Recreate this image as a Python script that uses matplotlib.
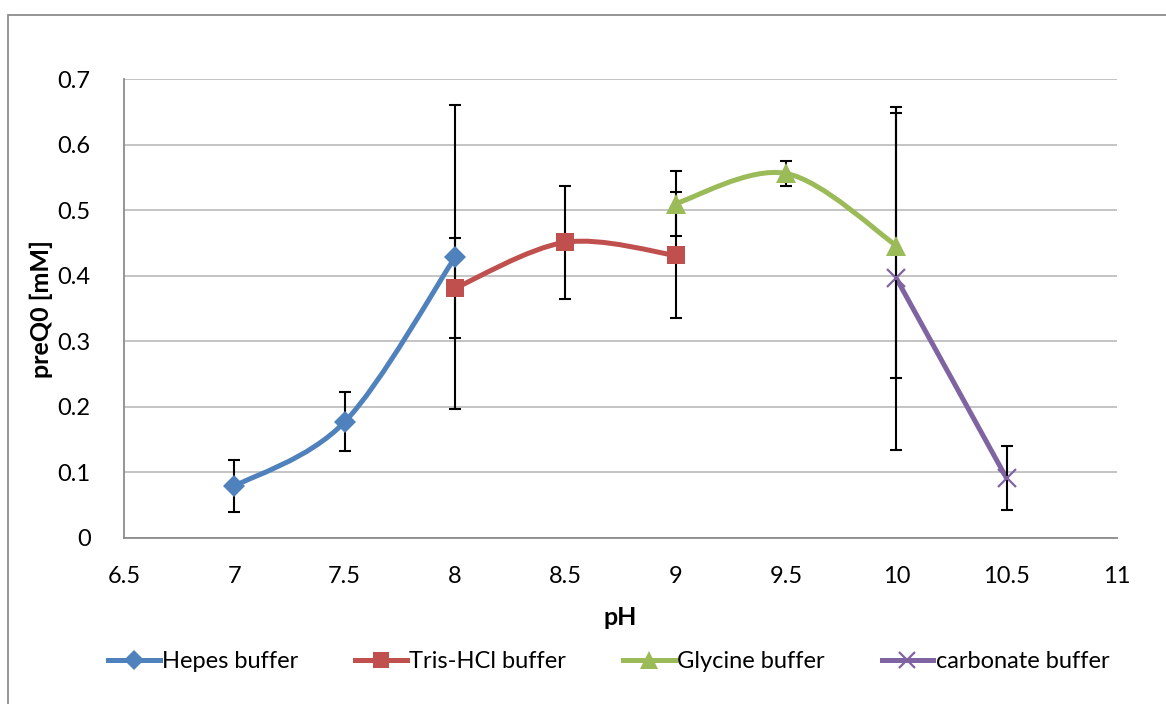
import numpy as np
import matplotlib
matplotlib.use("Agg")
import matplotlib.pyplot as plt
from matplotlib.path import Path
from matplotlib.patches import PathPatch, Rectangle
from matplotlib.lines import Line2D

plt.rcParams['font.family'] = ['Lato', 'DejaVu Sans']

# pH buffer series: mean preQ0 and error (+/-)
hepes_ph = [7.0, 7.5, 8.0]
hepes_val = [0.079, 0.177, 0.428]
hepes_err = [0.040, 0.045, 0.232]

tris_ph = [8.0, 8.5, 9.0]
tris_val = [0.381, 0.451, 0.431]
tris_err = [0.076, 0.086, 0.096]

gly_ph = [9.0, 9.5, 10.0]
gly_val = [0.510, 0.556, 0.446]
gly_err = [0.050, 0.019, 0.202]

carb_ph = [10.0, 10.5]
carb_val = [0.396, 0.091]
carb_err = [0.262, 0.049]

series = [
    ("Hepes buffer", hepes_ph, hepes_val, hepes_err, "#4F81BD", "D", 11, True),
    ("Tris-HCl buffer", tris_ph, tris_val, tris_err, "#C0504D", "s", 13, True),
    ("Glycine buffer", gly_ph, gly_val, gly_err, "#9BBB59", "^", 14, True),
    ("carbonate buffer", carb_ph, carb_val, carb_err, "#8064A2", "x", 13, False),
]

W, H = 1166, 704
fig = plt.figure(figsize=(W / 100, H / 100), dpi=100)
ax = fig.add_axes([124 / W, 1 - 538 / H, (1117 - 124) / W, (538 - 79) / H])

# outer chart border
fig.patches.append(Rectangle((8 / W, -0.2), 1.5, 1 - 15 / H + 0.2,
                             transform=fig.transFigure, fill=False,
                             edgecolor="#8C8C8C", lw=1.3, zorder=0))


def smooth_path(xs, ys):
    """Cubic Bezier through the points, spreadsheet-style smoothing."""
    pts = np.column_stack([xs, ys]).astype(float)
    n = len(pts)
    verts = [pts[0]]
    codes = [Path.MOVETO]
    for i in range(n - 1):
        p0 = pts[i - 1] if i > 0 else pts[i]
        p1 = pts[i]
        p2 = pts[i + 1]
        p3 = pts[i + 2] if i + 2 < n else pts[i + 1]
        c1 = p1 + (p2 - p0) / 6.0
        c2 = p2 - (p3 - p1) / 6.0
        verts += [c1, c2, p2]
        codes += [Path.CURVE4] * 3
    return Path(verts, codes)


for label, xs, ys, es, color, mk, ms, smooth in series:
    if smooth:
        ax.add_patch(PathPatch(smooth_path(xs, ys), facecolor="none",
                               edgecolor=color, lw=3.6, capstyle="round",
                               zorder=3))
    else:
        ax.plot(xs, ys, color=color, lw=3.6, solid_capstyle="round", zorder=3)

for label, xs, ys, es, color, mk, ms, smooth in series:
    ax.errorbar(xs, ys, yerr=es, fmt="none", ecolor="black", elinewidth=1.5,
                capsize=4.5, capthick=1.5, zorder=4)

for label, xs, ys, es, color, mk, ms, smooth in series:
    if mk == "x":
        ax.plot(xs, ys, ls="none", marker=mk, ms=ms, mew=1.6, color=color,
                zorder=5)
    else:
        ax.plot(xs, ys, ls="none", marker=mk, ms=ms, mew=0, color=color,
                zorder=5)

ax.set_xlim(6.5, 11)
ax.set_ylim(0, 0.7)
ax.set_xticks(np.arange(6.5, 11.01, 0.5))
ax.set_xticklabels(["6.5", "7", "7.5", "8", "8.5", "9", "9.5", "10", "10.5", "11"])
ax.set_yticks(np.arange(0, 0.71, 0.1))
ax.set_yticklabels(["0", "0.1", "0.2", "0.3", "0.4", "0.5", "0.6", "0.7"])
ax.tick_params(length=0, labelsize=17, pad=24)
ax.tick_params(axis="x", pad=20)
ax.yaxis.grid(True, color="#BFBFBF", lw=1.3)
ax.set_axisbelow(True)
for side in ("top", "right"):
    ax.spines[side].set_visible(False)
for side in ("left", "bottom"):
    ax.spines[side].set_color("#8C8C8C")
    ax.spines[side].set_linewidth(1.3)

ax.set_xlabel("pH", fontsize=18, fontweight="bold", labelpad=14)
ax.set_ylabel("preQ0 [mM]", fontsize=18, fontweight="bold", labelpad=3)

handles = []
for label, xs, ys, es, color, mk, ms, smooth in series:
    if mk == "x":
        h = Line2D([], [], color=color, lw=3.6, marker=mk, ms=ms - 1, mew=1.6)
    else:
        h = Line2D([], [], color=color, lw=3.6, marker=mk, ms=ms - 1, mew=0)
    handles.append(h)
fig.legend(handles, [s[0] for s in series], loc="center",
           bbox_to_anchor=(0.522, 1 - 662 / H), ncol=4, frameon=False,
           fontsize=17, handlelength=2.2, handletextpad=0.1,
           columnspacing=2.4)

fig.savefig("out.png", dpi=100)
